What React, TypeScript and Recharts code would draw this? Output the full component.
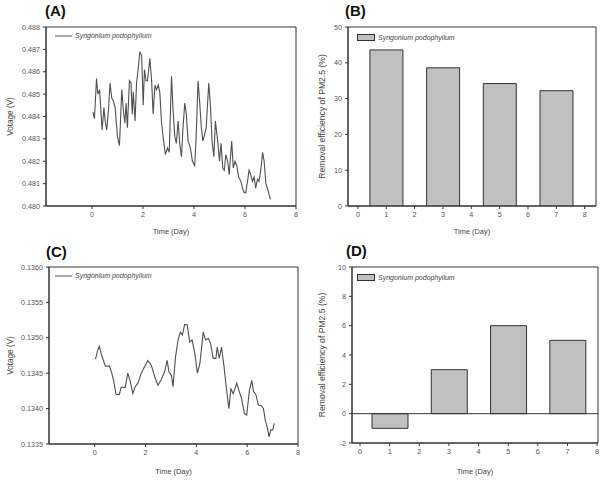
import {
  LineChart,
  Line,
  BarChart,
  Bar,
  XAxis,
  YAxis,
  Legend,
  ReferenceArea,
  ReferenceLine,
} from 'recharts';

// (A) voltage trace
const daysA = [
  0.04, 0.1, 0.18, 0.23, 0.3, 0.36, 0.4, 0.47, 0.52, 0.58, 0.65, 0.71, 0.78, 0.84, 0.91, 1.0, 1.08, 1.17,
  1.23, 1.29, 1.34, 1.39, 1.47, 1.53, 1.58, 1.62, 1.69, 1.75, 1.82, 1.88, 1.95, 2.01, 2.06, 2.12, 2.18,
  2.27, 2.34, 2.4, 2.47, 2.53, 2.6, 2.66, 2.73, 2.79, 2.88, 2.96, 3.03, 3.12, 3.18, 3.25, 3.31, 3.38,
  3.44, 3.51, 3.57, 3.64, 3.7, 3.77, 3.86, 3.94, 4.03, 4.09, 4.16, 4.22, 4.29, 4.35, 4.42, 4.48, 4.58,
  4.65, 4.71, 4.78, 4.84, 4.93, 5.0, 5.06, 5.13, 5.19, 5.25, 5.32, 5.38, 5.48, 5.54, 5.61, 5.68, 5.75,
  5.84, 5.9, 5.97, 6.03, 6.1, 6.16, 6.23, 6.29, 6.36, 6.42, 6.49, 6.55, 6.62, 6.69, 6.75, 6.82, 6.88,
  6.97, 7.0,
];
const voltageA = [
  0.4842, 0.4839, 0.4857, 0.485, 0.4852, 0.4841, 0.4834, 0.4844, 0.4838, 0.4834, 0.4843, 0.4855, 0.4848,
  0.4847, 0.4844, 0.4831, 0.4827, 0.4852, 0.4843, 0.4837, 0.4846, 0.4835, 0.4856, 0.4855, 0.4841, 0.4851,
  0.4838, 0.4855, 0.4862, 0.4869, 0.4867, 0.4845, 0.4861, 0.4856, 0.4856, 0.4866, 0.4856, 0.4841, 0.4854,
  0.4852, 0.4854, 0.4851, 0.4837, 0.4831, 0.4823, 0.4826, 0.4824, 0.4858, 0.4843, 0.4831, 0.4828, 0.4838,
  0.4828, 0.4822, 0.4835, 0.4846, 0.4841, 0.4829, 0.4826, 0.482, 0.4818, 0.4832, 0.4856, 0.4847, 0.4835,
  0.4829, 0.4832, 0.4835, 0.4855, 0.4844, 0.4829, 0.4822, 0.4838, 0.4829, 0.482, 0.4828, 0.4817, 0.4816,
  0.4823, 0.482, 0.4814, 0.4829, 0.4817, 0.482, 0.4818, 0.4813, 0.4811, 0.4808, 0.4806, 0.4806, 0.4811,
  0.4816, 0.4814, 0.4811, 0.4813, 0.4808, 0.4812, 0.4811, 0.4816, 0.4824, 0.482, 0.481, 0.4808, 0.4804,
  0.4803,
];

// (C) voltage trace
const daysC = [
  0.03, 0.12, 0.18, 0.25, 0.34, 0.42, 0.58, 0.67, 0.75, 0.84, 0.97, 1.04, 1.2, 1.3, 1.4, 1.5, 1.59, 1.7,
  1.83, 1.96, 2.09, 2.23, 2.36, 2.49, 2.62, 2.75, 2.85, 2.92, 3.02, 3.08, 3.18, 3.28, 3.37, 3.45, 3.54,
  3.64, 3.74, 3.83, 3.94, 4.04, 4.14, 4.27, 4.36, 4.47, 4.56, 4.66, 4.77, 4.82, 4.9, 4.99, 5.09, 5.19,
  5.28, 5.36, 5.45, 5.59, 5.69, 5.78, 5.89, 5.98, 6.09, 6.18, 6.25, 6.34, 6.44, 6.55, 6.64, 6.71, 6.8,
  6.86, 6.93, 7.01, 7.06,
];
const voltageC = [
  0.1347, 0.13483, 0.13488, 0.13478, 0.13468, 0.1346, 0.1346, 0.1345, 0.13438, 0.1342, 0.1342, 0.1343,
  0.1343, 0.1345, 0.13438, 0.13421, 0.13431, 0.13436, 0.1345, 0.13459, 0.13468, 0.13461, 0.13445,
  0.13433, 0.13441, 0.13452, 0.13468, 0.13452, 0.13447, 0.13431, 0.13473, 0.13497, 0.13508, 0.13504,
  0.13519, 0.13518, 0.13494, 0.13497, 0.13478, 0.1345, 0.13464, 0.13508, 0.13497, 0.13499, 0.13492,
  0.13471, 0.13471, 0.13487, 0.13471, 0.13487, 0.13459, 0.13426, 0.134, 0.13428, 0.13421, 0.13436,
  0.13424, 0.13414, 0.13393, 0.13391, 0.13426, 0.1344, 0.13424, 0.1342, 0.13405, 0.13404, 0.134,
  0.13384, 0.13372, 0.1336, 0.1337, 0.1337, 0.13379,
];

// (B) and (D) removal efficiency
const barDays = [1, 3, 5, 7];
const removalB = [43.6, 38.6, 34.2, 32.2];
const removalD = [-1, 3, 6, 5];

const lineTicksX = [0, 2, 4, 6, 8];
const barTicksX = [0, 1, 2, 3, 4, 5, 6, 7, 8];
const ticksA = [0.48, 0.481, 0.482, 0.483, 0.484, 0.485, 0.486, 0.487, 0.488];
const ticksC = [0.1335, 0.134, 0.1345, 0.135, 0.1355, 0.136];
const ticksB = [0, 10, 20, 30, 40, 50];
const ticksD = [-2, 0, 2, 4, 6, 8, 10];

const SPECIES = 'Syngonium podophyllum';
const FONT = '"Liberation Sans", Arial, sans-serif';
const AXIS = '#333';
const tick = { fontSize: 7.2, fill: '#555', fontFamily: FONT };
const timeLabel = { fontSize: 7.4, fill: '#444', fontFamily: FONT };

const dataA = daysA.map((d, i) => ({ day: d, v: voltageA[i] }));
const dataC = daysC.map((d, i) => ({ day: d, v: voltageC[i] }));
const dataB = barDays.map((d, i) => ({ day: d, r: removalB[i] }));
const dataD = barDays.map((d, i) => ({ day: d, r: removalD[i] }));

function LineKey() {
  return (
    <div style={{ display: 'flex', alignItems: 'center', fontFamily: FONT, fontSize: 7, fontStyle: 'italic', color: '#444', whiteSpace: 'nowrap' }}>
      <svg width={17} height={4}>
        <line x1={0} y1={2} x2={17} y2={2} stroke="#555" strokeWidth={1} />
      </svg>
      <span style={{ marginLeft: 3 }}>{SPECIES}</span>
    </div>
  );
}

function BarKey() {
  return (
    <div style={{ display: 'flex', alignItems: 'center', fontFamily: FONT, fontSize: 7, fontStyle: 'italic', color: '#444', whiteSpace: 'nowrap' }}>
      <svg width={18} height={7}>
        <rect x={0.5} y={0.5} width={17} height={6} fill="#c0c0c0" stroke="#333" />
      </svg>
      <span style={{ marginLeft: 3 }}>{SPECIES}</span>
    </div>
  );
}

function Title({ text, left, top }: { text: string; left: number; top: number }) {
  return (
    <div style={{ position: 'absolute', left, top, fontFamily: FONT, fontWeight: 'bold', fontSize: 15, color: '#111' }}>
      {text}
    </div>
  );
}

function VoltagePanel({ data, ticks, digits, right, bottom, plotLeft }: any) {
  const lo = ticks[0];
  const hi = ticks[ticks.length - 1];
  return (
    <LineChart width={310} height={240} data={data} margin={{ top: 27, right, left: 0, bottom: 0 }}>
      <XAxis
        dataKey="day"
        type="number"
        domain={[-1.8, 8]}
        ticks={lineTicksX}
        allowDataOverflow
        height={bottom}
        tick={tick}
        tickSize={3}
        tickMargin={3}
        stroke={AXIS}
        label={{ value: 'Time (Day)', position: 'insideBottom', offset: 6, style: timeLabel }}
      />
      <YAxis
        type="number"
        domain={[lo, hi]}
        ticks={ticks}
        allowDataOverflow
        width={plotLeft}
        tick={tick}
        tickSize={3}
        tickMargin={3}
        stroke={AXIS}
        tickFormatter={(v: number) => v.toFixed(digits)}
        label={{ value: 'Votage (V)', angle: -90, position: 'insideLeft', offset: 10, style: { fontSize: 8.2, fill: '#444', fontFamily: FONT, textAnchor: 'middle' } }}
      />
      <ReferenceArea x1={-1.8} x2={8} y1={lo} y2={hi} fill="none" stroke={AXIS} strokeWidth={1} />
      <Legend layout="horizontal" verticalAlign="middle" content={() => <LineKey />} wrapperStyle={{ left: 55, top: 32, width: 'auto' }} />
      <Line type="linear" dataKey="v" stroke="#505050" strokeWidth={1.1} dot={false} isAnimationActive={false} />
    </LineChart>
  );
}

function RemovalPanel({ data, ticks, domainX, right, bottom, plotLeft, barSize, zeroLine }: any) {
  const lo = ticks[0];
  const hi = ticks[ticks.length - 1];
  return (
    <BarChart width={311} height={240} data={data} margin={{ top: 27, right, left: 0, bottom: 0 }}>
      <XAxis
        dataKey="day"
        type="number"
        domain={domainX}
        ticks={barTicksX}
        allowDataOverflow
        height={bottom}
        tick={tick}
        tickSize={3}
        tickMargin={3}
        stroke={AXIS}
        label={{ value: 'Time (Day)', position: 'insideBottom', offset: 6, style: timeLabel }}
      />
      <YAxis
        type="number"
        domain={[lo, hi]}
        ticks={ticks}
        allowDataOverflow
        width={plotLeft}
        tick={tick}
        tickSize={3}
        tickMargin={3}
        stroke={AXIS}
        label={{ value: 'Removal efficiency of PM2.5 (%)', angle: -90, position: 'insideLeft', offset: 22, style: { fontSize: 8.6, fill: '#444', fontFamily: FONT, textAnchor: 'middle' } }}
      />
      <ReferenceArea x1={domainX[0]} x2={domainX[1]} y1={lo} y2={hi} fill="none" stroke={AXIS} strokeWidth={1} />
      {zeroLine && <ReferenceLine y={0} stroke={AXIS} strokeWidth={1} />}
      <Legend layout="horizontal" verticalAlign="middle" content={() => <BarKey />} wrapperStyle={{ left: 57, top: 34, width: 'auto' }} />
      <Bar dataKey="r" fill="#c0c0c0" stroke="#333" strokeWidth={1} barSize={barSize} isAnimationActive={false} />
    </BarChart>
  );
}

export default function App() {
  return (
    <div style={{ position: 'absolute', left: 0, top: 0, width: 611, height: 480, background: '#fff', overflow: 'hidden' }}>
      <div style={{ position: 'absolute', left: 0, top: 0 }}>
        <VoltagePanel data={dataA} ticks={ticksA} digits={3} right={14} bottom={34} plotLeft={46} />
      </div>
      <div style={{ position: 'absolute', left: 300, top: 0 }}>
        <RemovalPanel data={dataB} ticks={ticksB} domainX={[-0.35, 8.4]} right={15} bottom={34} plotLeft={48} barSize={33} />
      </div>
      <div style={{ position: 'absolute', left: 0, top: 240 }}>
        <VoltagePanel data={dataC} ticks={ticksC} digits={4} right={12} bottom={36} plotLeft={49} />
      </div>
      <div style={{ position: 'absolute', left: 300, top: 240 }}>
        <RemovalPanel data={dataD} ticks={ticksD} domainX={[-0.27, 8.03]} right={13} bottom={37} plotLeft={52} barSize={36} zeroLine />
      </div>
      <Title text="(A)" left={45} top={2} />
      <Title text="(B)" left={345} top={2} />
      <Title text="(C)" left={46} top={243} />
      <Title text="(D)" left={346} top={242} />
    </div>
  );
}
